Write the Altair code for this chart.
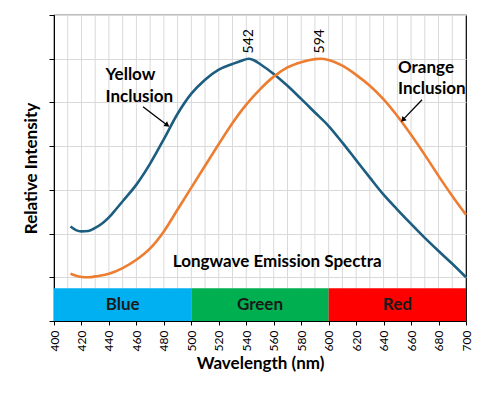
import altair as alt
import pandas as pd

# ---- data ----
yellow_wl = [412, 416, 420, 425, 430, 435, 440, 445, 450, 460, 470, 480, 490, 500, 510, 520, 530, 536, 542,
             546, 550, 560, 570, 580, 590, 600, 610, 620, 630, 640, 650, 660, 670, 680, 690, 700]
yellow_int = [2.16, 2.08, 2.05, 2.06, 2.13, 2.23, 2.37, 2.55, 2.74, 3.12, 3.60, 4.16, 4.74, 5.20, 5.52, 5.75, 5.88,
              5.95, 6.00, 5.96, 5.88, 5.65, 5.38, 5.08, 4.77, 4.46, 4.08, 3.68, 3.28, 2.89, 2.55, 2.22, 1.90, 1.60,
              1.31, 1.00]
orange_wl = [412, 418, 425, 432, 440, 450, 460, 470, 480, 490, 500, 510, 520, 530, 535, 540, 550, 560, 570, 580,
             590, 594, 600, 610, 620, 630, 640, 650, 660, 670, 680, 690, 700]
orange_int = [1.08, 1.02, 1.00, 1.03, 1.08, 1.21, 1.40, 1.66, 2.05, 2.55, 3.05, 3.55, 4.05, 4.53, 4.75, 4.95, 5.30,
              5.59, 5.80, 5.92, 5.99, 6.00, 5.97, 5.84, 5.63, 5.38, 5.07, 4.69, 4.26, 3.80, 3.32, 2.86, 2.43]

band_names = ["Blue", "Green", "Red"]
band_start = [400, 500, 600]
band_end = [500, 600, 700]
band_colors = ["#00B0F0", "#00B050", "#FF0000"]
band_top = 0.75

peak_wl = [542, 594]
peak_labels = ["542", "594"]

grid_wl = list(range(410, 700, 10))
x_ticks = list(range(400, 701, 20))
y_ticks = [0, 1, 2, 3, 4, 5, 6, 7]

series_names = ["Yellow Inclusion", "Orange Inclusion"]
series_colors = ["#1C5D80", "#ED7D31"]

# ---- tables ----
lines_df = pd.concat([
    pd.DataFrame({"wl": yellow_wl, "val": yellow_int, "series": series_names[0]}),
    pd.DataFrame({"wl": orange_wl, "val": orange_int, "series": series_names[1]}),
])
bands_df = pd.DataFrame({"name": band_names, "x": band_start, "x2": band_end, "color": band_colors,
                         "mid": [(a + b) / 2 for a, b in zip(band_start, band_end)]})
grid_df = pd.DataFrame({"wl": grid_wl})
peaks_df = pd.DataFrame({"wl": peak_wl, "label": peak_labels, "y": [6.40, 6.40]})

notes_df = pd.DataFrame({
    "x": [437.5, 437.5, 650.5, 650.5],
    "y": [5.63, 5.12, 5.79, 5.31],
    "text": ["Yellow", "Inclusion", "Orange", "Inclusion"],
})
title_df = pd.DataFrame({"x": [562.5], "y": [1.35], "text": ["Longwave Emission Spectra"]})

arrows_df = pd.DataFrame({
    "x": [464.8, 668.0], "y": [4.90, 5.06],
    "x2": [482.5, 654.0], "y2": [4.48, 4.60],
    "angle": [127, 224],
})

xs = alt.Scale(domain=[400, 700], nice=False, zero=False)
ys = alt.Scale(domain=[0, 7], nice=False, zero=True)
FONT = "Lato"

x_axis = alt.Axis(values=x_ticks, title="Wavelength (nm)", labelAngle=270, labelFontSize=12,
                  labelFont=FONT, labelColor="#000", tickColor="#000", tickSize=4, labelPadding=5,
                  labelOverlap=False, labelFlush=False, labelBound=False,
                  domainColor="#000", grid=False, titleFont=FONT, titleFontSize=17,
                  titleFontWeight="bold", titleColor="#000", titlePadding=5)
y_axis = alt.Axis(values=y_ticks, labels=False, title="Relative Intensity", tickSize=5,
                  tickColor="#000", domainColor="#000", grid=True, gridColor="#D9D9D9",
                  titleFont=FONT, titleFontSize=17, titleFontWeight="bold", titleColor="#000",
                  titlePadding=8)


def X(field):
    return alt.X(field, scale=xs, axis=x_axis)


def Y(field):
    return alt.Y(field, scale=ys, axis=y_axis)


grid = alt.Chart(grid_df).mark_rule(color="#D9D9D9", strokeWidth=1).encode(
    x=X("wl:Q"), y=alt.value(0), y2=alt.value(306),
)

bands = alt.Chart(bands_df).mark_rect().encode(
    x=X("x:Q"), x2="x2:Q",
    y=alt.datum(0, scale=ys, axis=y_axis), y2=alt.datum(band_top),
    color=alt.Color("color:N", scale=None),
)
band_text = alt.Chart(bands_df).mark_text(font=FONT, fontSize=17, fontWeight="bold", color="#1a1a1a").encode(
    x=X("mid:Q"), y=alt.datum(0.37, scale=ys, axis=y_axis), text="name:N",
)

lines = alt.Chart(lines_df).mark_line(strokeWidth=2.6, interpolate="monotone").encode(
    x=X("wl:Q"), y=Y("val:Q"),
    color=alt.Color("series:N", scale=alt.Scale(domain=series_names, range=series_colors), legend=None),
    detail="series:N",
)

peaks = alt.Chart(peaks_df).mark_text(font=FONT, fontSize=14, angle=270, color="#000").encode(
    x=X("wl:Q"), y=Y("y:Q"), text="label:N",
)

notes = alt.Chart(notes_df).mark_text(font=FONT, fontSize=17, fontWeight="bold", align="left",
                                      color="#000").encode(
    x=X("x:Q"), y=Y("y:Q"), text="text:N",
)
ttl = alt.Chart(title_df).mark_text(font=FONT, fontSize=17, fontWeight="bold", color="#000").encode(
    x=X("x:Q"), y=Y("y:Q"), text="text:N",
)

arrow_lines = alt.Chart(arrows_df).mark_rule(color="#000", strokeWidth=1.3).encode(
    x=X("x:Q"), y=Y("y:Q"), x2="x2:Q", y2="y2:Q",
)
arrow_heads = alt.Chart(arrows_df).mark_point(shape="triangle-up", filled=True, color="#000", size=35,
                                              opacity=1).encode(
    x=X("x2:Q"), y=Y("y2:Q"), angle=alt.Angle("angle:Q", scale=None),
)

chart = alt.layer(grid, bands, band_text, lines, peaks, notes, ttl, arrow_lines, arrow_heads).properties(
    width=412, height=306, autosize="none",
    padding={"left": 46, "top": 7, "right": 12, "bottom": 65},
).configure_view(stroke="#000", strokeWidth=1.2).configure_axisX(labelOverlap=False)

chart.save("out.html", embed_options={"renderer": "svg", "actions": False})
